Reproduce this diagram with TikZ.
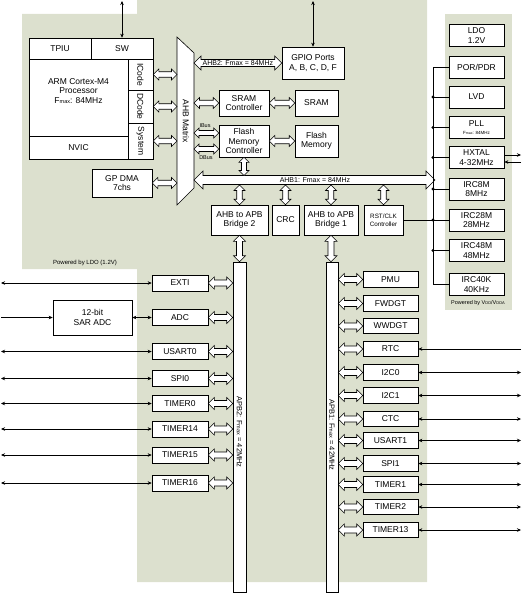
\documentclass[tikz,border=0pt]{standalone}
\usepackage{fontspec}
\setmainfont{Liberation Sans}
\usepackage{xcolor}
\usetikzlibrary{arrows.meta,calc}

\definecolor{chipbg}{RGB}{220,224,206}

% F with small "max"
\newcommand{\fmx}{F{\fontsize{5.5}{6}\selectfont max}}

% hollow double arrows: [head size]{first end}{second end}
\newcommand{\hbusarrow}[3][5.5]{%
  \draw[hollow] (#2) -- ++(#1,-#1) -- ++(0,#1/2) -- ($(#3)+(-#1,-#1/2)$) -- ++(0,-#1/2) -- (#3)
    -- ++(-#1,#1) -- ++(0,-#1/2) -- ($(#2)+(#1,#1/2)$) -- ++(0,#1/2) -- cycle;}
\newcommand{\vbusarrow}[3][5.5]{%
  \draw[hollow] (#2) -- ++(#1,#1) -- ++(-#1/2,0) -- ($(#3)+(#1/2,-#1)$) -- ++(#1/2,0) -- (#3)
    -- ++(-#1,-#1) -- ++(#1/2,0) -- ($(#2)+(-#1/2,#1)$) -- ++(-#1/2,0) -- cycle;}

\tikzset{
  >={Stealth[length=4pt,width=3.5pt]},
  blk/.style={draw, fill=white, line width=0.6pt, align=center, inner sep=0pt,
    font=\fontsize{8.5}{9.5}\selectfont},
  lblk/.style={blk, minimum width=56, minimum height=16},
  rblk/.style={blk, minimum width=55, minimum height=15.5},
  cblk/.style={blk, minimum width=55, minimum height=22},
  hollow/.style={draw, fill=white, line width=0.6pt},
  sig/.style={line width=0.6pt},
  bustxt/.style={font=\fontsize{7}{8}\selectfont, inner sep=0pt},
  note/.style={font=\fontsize{6}{7}\selectfont, inner sep=0pt}
}

\begin{document}
\begin{tikzpicture}[x=1pt,y=-1pt]
\useasboundingbox (0,0) rectangle (522,594);

% Background areas
\fill[chipbg] (22,14) -- (137,14) -- (137,0) -- (427,0) -- (427,582) -- (137,582)
  -- (137,269) -- (22,269) -- cycle;
\fill[chipbg] (445,14) rectangle (512,310);

% Helper coordinates
\coordinate (mtxL) at (177,0);
\coordinate (mtxR) at (194,0);
\coordinate (trk) at (433,0);
\coordinate (lft) at (1,0);
\coordinate (rgt) at (521,0);
\coordinate (ahb1L) at (194,180);
\coordinate (ahb1R) at (435,180);
\coordinate (ahb1top) at (0,175.5);
\coordinate (ahb1bot) at (0,185);

% Cortex-M4 core
\node[blk, minimum width=62, minimum height=21] (tpiu) at (60,48.5) {TPIU};
\node[blk, minimum width=62, minimum height=21] (sw) at (122,48.5) {SW};
\node[blk, minimum width=99, minimum height=77] (cpu) at (78.5,97.5)
  {ARM Cortex-M4\\Processor\\\fmx: 84MHz\\[4pt]};
\node[blk, minimum width=99, minimum height=23] (nvic) at (78.5,147.5) {NVIC};
\node[blk, minimum width=25, minimum height=31] (icode) at (140.5,74.5) {};
\node[blk, minimum width=25, minimum height=33] (dcode) at (140.5,106.5) {};
\node[blk, minimum width=25, minimum height=36] (sysb) at (140.5,141) {};
\node[rotate=-90, font=\fontsize{8.5}{9.5}\selectfont] (icodetxt) at (icode) {ICode};
\node[rotate=-90, font=\fontsize{8.5}{9.5}\selectfont] (dcodetxt) at (dcode) {DCode};
\node[rotate=-90, font=\fontsize{8.5}{9.5}\selectfont] (sysbtxt) at (sysb) {System};
\node[blk, minimum width=60, minimum height=28] (gpdma) at (122,183) {GP DMA\\7chs};
\coordinate (swio) at (122,1);
\draw[sig,<->] (sw.north) -- (swio);

% AHB matrix
\draw[hollow] (177,37) -- (194,53) -- (194,188) -- (177,205) -- cycle;
\node[rotate=-90, font=\fontsize{8.5}{9.5}\selectfont] (mtxtxt) at (186,121) {AHB Matrix};
\hbusarrow{icode.east}{icode.east -| mtxL}
\hbusarrow{dcode.east}{dcode.east -| mtxL}
\hbusarrow{sysb.east}{sysb.east -| mtxL}
\hbusarrow{gpdma.east}{gpdma.east -| mtxL}

% GPIO on AHB2
\node[blk, minimum width=62, minimum height=32] (gpio) at (313,63) {GPIO Ports\\A, B, C, D, F};
\coordinate (gpioio) at (313,1);
\draw[sig,<->] (gpio.north) -- (gpioio);
\hbusarrow[7]{gpio.west -| mtxR}{gpio.west}
\node[bustxt] (ahb2txt) at ($(gpio.west -| mtxR)!0.5!(gpio.west)$) {AHB2: Fmax = 84MHz};

% Memories
\node[blk, minimum width=50, minimum height=26] (sramc) at (244,103) {SRAM\\Controller};
\node[blk, minimum width=43, minimum height=26] (sram) at (316.5,103) {SRAM};
\node[blk, minimum width=50, minimum height=32] (flashc) at (244,141) {Flash\\Memory\\Controller};
\node[blk, minimum width=43, minimum height=32] (flash) at (316.5,141) {Flash\\Memory};
\hbusarrow{sramc.west -| mtxR}{sramc.west}
\hbusarrow{sramc.east}{sram.west}
\hbusarrow{flashc.east}{flash.west}
\coordinate (ibusL) at (194,133);
\coordinate (dbusL) at (194,149);
\hbusarrow[5]{ibusL}{ibusL -| flashc.west}
\hbusarrow[5]{dbusL}{dbusL -| flashc.west}
\node[font=\fontsize{5.5}{6}\selectfont, inner sep=0pt] (ibustxt) at (205,126) {IBus};
\node[font=\fontsize{5.5}{6}\selectfont, inner sep=0pt] (dbustxt) at (206,157.5) {DBus};

% AHB1 bus
\hbusarrow[9]{ahb1L}{ahb1R}
\node[bustxt] (ahb1txt) at (315,180) {AHB1: Fmax = 84MHz};
\vbusarrow[5]{flashc.south}{flashc.south |- ahb1top}

% Bridges
\node[blk, minimum width=57, minimum height=30] (br2) at (239.5,220) {AHB to APB\\Bridge 2};
\node[blk, minimum width=27, minimum height=30] (crc) at (285.5,220) {CRC};
\node[blk, minimum width=54, minimum height=30] (br1) at (331,220) {AHB to APB\\Bridge 1};
\node[blk, minimum width=39, minimum height=30, font=\fontsize{6.3}{7.5}\selectfont] (rstclk)
  at (383.5,220) {RST/CLK\\Controller};
\foreach \b in {br2,crc,br1,rstclk}
  \vbusarrow{\b.north |- ahb1bot}{\b.north};

% Clock and power
\node[cblk] (ldo) at (476.5,35.5) {LDO\\1.2V};
\node[cblk] (por) at (476.5,67) {POR/PDR};
\node[cblk] (lvd) at (476.5,97) {LVD};
\node[cblk] (pll) at (476.5,127.5)
  {PLL\\[-1pt]{\fontsize{4.5}{5}\selectfont F{\fontsize{3.5}{4}\selectfont max}: 84MHz}};
\node[cblk] (hxtal) at (476.5,157.5) {HXTAL\\4-32MHz};
\node[cblk] (irc8m) at (476.5,189) {IRC8M\\8MHz};
\node[cblk] (irc28m) at (476.5,220) {IRC28M\\28MHz};
\node[cblk] (irc48m) at (476.5,250.5) {IRC48M\\48MHz};
\node[cblk] (irc40k) at (476.5,284.5) {IRC40K\\40KHz};
\draw[sig] (por.west) -- (por.west -| trk) -- (irc40k.west -| trk) -- (irc40k.west);
\foreach \c in {lvd,pll,hxtal,irc8m,irc28m,irc48m} {
  \draw[sig] (\c.west -| trk) -- (\c.west);
  \fill (\c.west -| trk) circle (1.6);
}
\draw[sig] (rstclk.east) -- (rstclk.east -| trk);
\coordinate (hxo) at (521,155);
\coordinate (hxi) at (521,162);
\draw[sig,->] (hxtal.east |- hxo) -- (hxo);
\draw[sig,->] (hxi) -- (hxtal.east |- hxi);

% Power notes
\node[note] (pwrldo) at (85,263) {Powered by LDO (1.2V)};
\node[note, font=\fontsize{5.5}{6}\selectfont] (pwrvdd) at (478,303)
  {Powered by V{\fontsize{4}{4}\selectfont DD}/V{\fontsize{4}{4}\selectfont DDA}};

% APB2 bus and peripherals
\node[blk, minimum width=13, minimum height=330] (apb2) at (239.5,427) {};
\node[rotate=-90, font=\fontsize{7.5}{8}\selectfont] (apb2txt) at (239.5,432) {APB2: \fmx{} = 42MHz};
\vbusarrow[6]{br2.south}{br2.south |- apb2.north}
\node[lblk] (exti) at (180,283) {EXTI};
\node[lblk] (adc) at (180,317.5) {ADC};
\node[lblk] (usart0) at (180,351.5) {USART0};
\node[lblk] (spi0) at (180,378.5) {SPI0};
\node[lblk] (timer0) at (180,403.5) {TIMER0};
\node[lblk] (timer14) at (180,429) {TIMER14};
\node[lblk] (timer15) at (180,455) {TIMER15};
\node[lblk] (timer16) at (180,483) {TIMER16};
\node[blk, minimum width=79, minimum height=35] (sar) at (92.5,317.5) {12-bit\\SAR ADC};
\foreach \p in {exti,adc,usart0,spi0,timer0,timer14,timer15,timer16}
  \hbusarrow[6]{\p.east}{\p.east -| apb2.west};
\foreach \p in {exti,usart0,spi0,timer0,timer14,timer15,timer16}
  \draw[sig,<->] (\p.west -| lft) -- (\p.west);
\draw[sig,->] (sar.west -| lft) -- (sar.west);
\draw[sig,<->] (sar.east) -- (adc.west);

% APB1 bus and peripherals
\node[blk, minimum width=12, minimum height=330] (apb1) at (332,427) {};
\node[rotate=-90, font=\fontsize{7.5}{8}\selectfont] (apb1txt) at (332,435) {APB1: \fmx{} = 42MHz};
\vbusarrow[6]{br1.south}{br1.south |- apb1.north}
\node[rblk] (pmu) at (390.5,279.5) {PMU};
\node[rblk] (fwdgt) at (390.5,303.5) {FWDGT};
\node[rblk] (wwdgt) at (390.5,326) {WWDGT};
\node[rblk] (rtc) at (390.5,349) {RTC};
\node[rblk] (i2c0) at (390.5,372.5) {I2C0};
\node[rblk] (i2c1) at (390.5,395.5) {I2C1};
\node[rblk] (ctc) at (390.5,419) {CTC};
\node[rblk] (usart1) at (390.5,440.5) {USART1};
\node[rblk] (spi1) at (390.5,463.5) {SPI1};
\node[rblk] (timer1) at (390.5,484.5) {TIMER1};
\node[rblk] (timer2) at (390.5,507) {TIMER2};
\node[rblk] (timer13) at (390.5,530) {TIMER13};
\foreach \p in {pmu,fwdgt,wwdgt,rtc,i2c0,i2c1,ctc,usart1,spi1,timer1,timer2,timer13}
  \hbusarrow[6]{\p.west -| apb1.east}{\p.west};
\draw[sig,->] (rtc.east -| rgt) -- (rtc.east);
\foreach \p in {i2c0,i2c1,ctc,usart1,spi1,timer1,timer2,timer13}
  \draw[sig,<->] (\p.east) -- (\p.east -| rgt);
\end{tikzpicture}
\end{document}
